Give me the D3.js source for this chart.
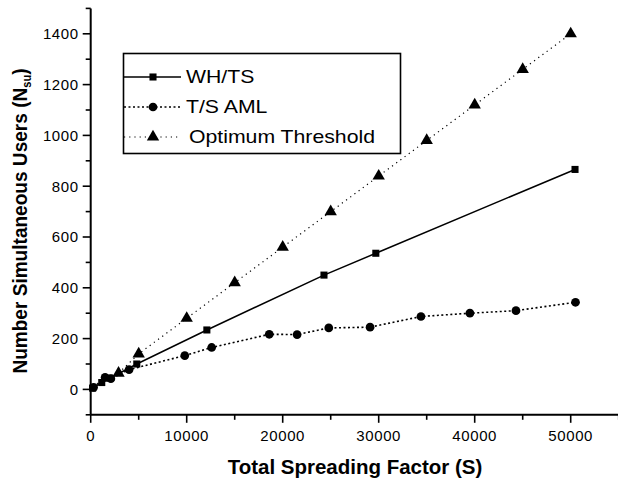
<!DOCTYPE html>
<html>
<head>
<meta charset="utf-8">
<script src="https://cdn.jsdelivr.net/npm/d3@7"></script>
<style>
  body { margin: 0; background: #fff; }
  text { font-family: "Liberation Sans", Arial, sans-serif; fill: #000; }
</style>
</head>
<body>
<div id="chart"></div>
<script>
// series data (spreading factor S, number of users)
const whtsX = [200, 1150, 2000, 4800, 12100, 24300, 29700, 50450];
const whtsY = [5, 27, 44, 100, 234, 450, 536, 866];

const amlX = [300, 1500, 2100, 4000, 9800, 12600, 18600, 21500, 24800, 29100, 34400, 39500, 44300, 50500];
const amlY = [8, 47, 42, 78, 133, 165, 217, 216, 242, 245, 287, 300, 310, 343];

const optX = [2900, 5000, 10000, 15000, 20000, 25000, 30000, 35000, 40000, 45000, 50000];
const optY = [64, 140, 280, 420, 560, 700, 840, 980, 1120, 1260, 1400];

const seriesNames = ["WH/TS", "T/S AML", "Optimum Threshold"];
const xTicks = [0, 10000, 20000, 30000, 40000, 50000];
const yTicks = [0, 200, 400, 600, 800, 1000, 1200, 1400];

const width = 618, height = 481;
const svg = d3.select("#chart").append("svg")
  .attr("width", width)
  .attr("height", height);

const x = d3.scaleLinear().domain([0, 55000]).range([90.7, 618.7]);
const y = d3.scaleLinear().domain([-100, 1500]).range([414.8, 8.4]);

// axes
const xAxis = svg.append("g").attr("transform", `translate(0,${y(-100)})`);
xAxis.append("line").attr("x1", x(0)).attr("x2", x(55000)).attr("stroke", "#000").attr("stroke-width", 2);
xAxis.selectAll(".minor").data(d3.range(0, 55001, 5000)).enter().append("line")
  .attr("x1", d => x(d)).attr("x2", d => x(d))
  .attr("y1", 0).attr("y2", d => d % 10000 === 0 ? 8 : 5)
  .attr("stroke", "#000").attr("stroke-width", 1.6);
xAxis.selectAll(".tl").data(xTicks).enter().append("text")
  .attr("x", d => x(d)).attr("y", 26)
  .attr("text-anchor", "middle")
  .style("font-size", "15px").style("letter-spacing", "0.6px")
  .text(d => d);

const yAxis = svg.append("g").attr("transform", `translate(${x(0)},0)`);
yAxis.append("line").attr("y1", y(-100)).attr("y2", y(1500)).attr("stroke", "#000").attr("stroke-width", 2);
yAxis.selectAll(".minor").data(d3.range(-100, 1501, 100)).enter().append("line")
  .attr("y1", d => y(d)).attr("y2", d => y(d))
  .attr("x1", 0).attr("x2", d => d % 200 === 0 ? -8 : -5)
  .attr("stroke", "#000").attr("stroke-width", 1.6);
yAxis.selectAll(".tl").data(yTicks).enter().append("text")
  .attr("x", -12).attr("y", d => y(d)).attr("dy", "0.36em")
  .attr("text-anchor", "end")
  .style("font-size", "15px").style("letter-spacing", "0.6px")
  .text(d => d);

// axis titles
svg.append("text")
  .attr("x", 355).attr("y", 474)
  .attr("text-anchor", "middle")
  .style("font-size", "20.5px").style("font-weight", "bold")
  .text("Total Spreading Factor (S)");

const yt = svg.append("text")
  .attr("transform", "translate(27,221) rotate(-90) scale(0.93,1)")
  .attr("text-anchor", "middle")
  .style("font-size", "20.5px").style("font-weight", "bold");
yt.append("tspan").text("Number Simultaneous Users (N");
yt.append("tspan").attr("dy", 4).style("font-size", "12px").text("su");
yt.append("tspan").attr("dy", -4).text(")");

// lines
const line = d3.line().x(d => x(d[0])).y(d => y(d[1]));
const series = [
  { name: seriesNames[0], pts: d3.zip(whtsX, whtsY), dash: null, sw: 1.5, marker: "square" },
  { name: seriesNames[1], pts: d3.zip(amlX, amlY), dash: "2,2.5", sw: 1.6, marker: "circle" },
  { name: seriesNames[2], pts: d3.zip(optX, optY), dash: "1.2,4", sw: 1.2, marker: "triangle" }
];

const symbolOf = {
  square: d3.symbol().type(d3.symbolSquare).size(50),
  circle: d3.symbol().type(d3.symbolCircle).size(60),
  triangle: d3.symbol().type(d3.symbolTriangle).size(66)
};

series.forEach(s => {
  svg.append("path")
    .attr("d", line(s.pts))
    .attr("fill", "none")
    .attr("stroke", "#000")
    .attr("stroke-width", s.sw)
    .attr("stroke-dasharray", s.dash);
  svg.selectAll(null).data(s.pts).enter().append("path")
    .attr("d", symbolOf[s.marker])
    .attr("transform", d => `translate(${x(d[0])},${y(d[1])})`)
    .attr("fill", "#000");
});

// legend
const legend = svg.append("g");
legend.append("rect")
  .attr("x", 123.5).attr("y", 53.5).attr("width", 277).attr("height", 100)
  .attr("fill", "#fff").attr("stroke", "#000").attr("stroke-width", 1.6);
series.forEach((s, i) => {
  const ly = 77 + i * 30;
  legend.append("line")
    .attr("x1", 124).attr("x2", 181).attr("y1", ly).attr("y2", ly)
    .attr("stroke", "#000").attr("stroke-width", s.sw)
    .attr("stroke-dasharray", s.dash);
  legend.append("path")
    .attr("d", symbolOf[s.marker])
    .attr("transform", `translate(153,${ly})`)
    .attr("fill", "#000");
  legend.append("text")
    .attr("transform", `translate(${i === 2 ? 189 : 186},${ly}) scale(1.18,1)`)
    .attr("dy", "0.36em")
    .style("font-size", "18px")
    .text(s.name);
});
</script>
</body>
</html>
